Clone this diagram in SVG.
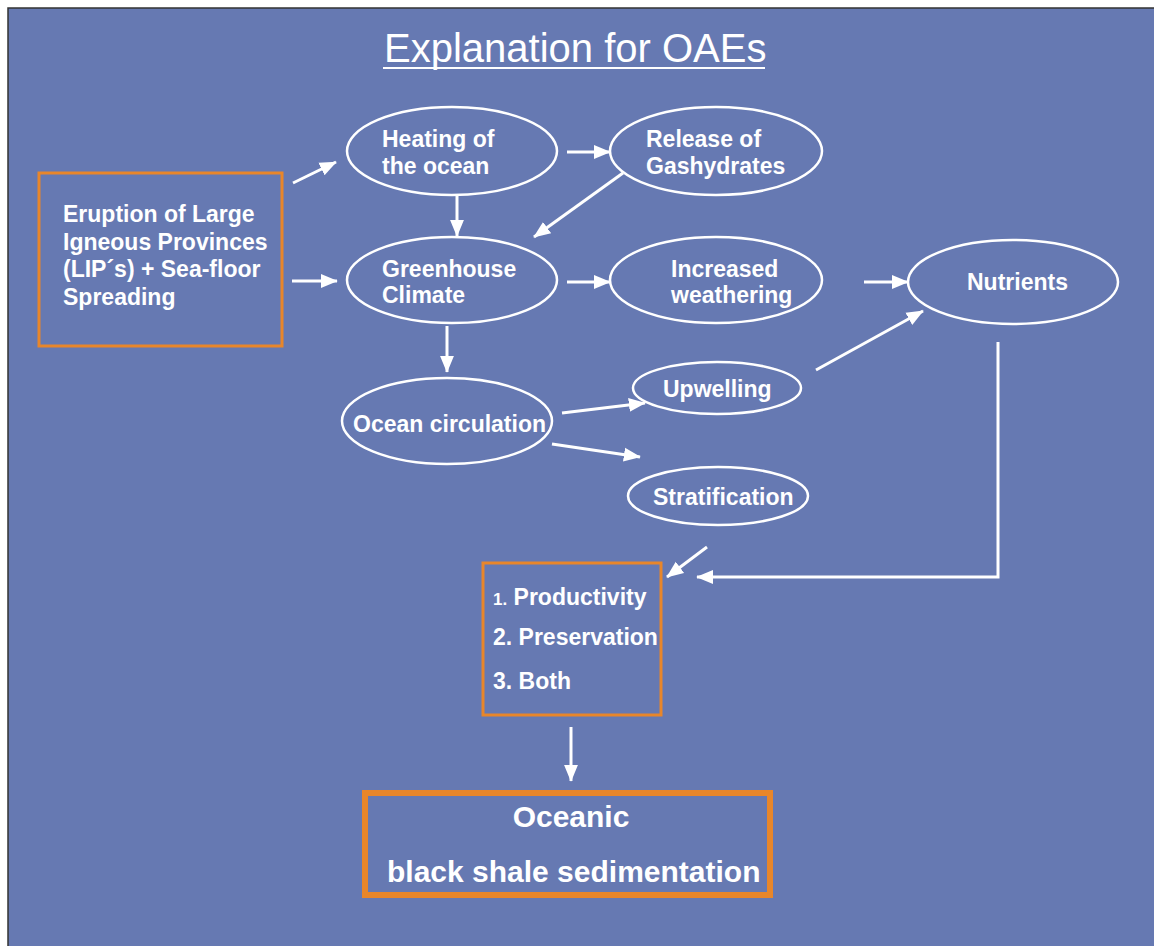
<svg xmlns="http://www.w3.org/2000/svg" width="1154" height="946" viewBox="0 0 1154 946">
<defs>
<style>
.t{font-family:"Liberation Sans",Arial,sans-serif;font-weight:bold;font-size:23px;fill:#fff}
.el{fill:none;stroke:#fff;stroke-width:2.5}
.box{fill:none;stroke:#e8862a;stroke-width:3}
.ar{fill:none;stroke:#fff;stroke-width:3;marker-end:url(#ah)}
</style>
<marker id="ah" viewBox="0 0 10 10" markerUnits="userSpaceOnUse" markerWidth="17" markerHeight="17" refX="9.5" refY="5" orient="auto">
<path d="M0,0.9 L10,5 L0,9.1 z" fill="#fff"/>
</marker>
</defs>
<rect x="0" y="0" width="1154" height="946" fill="#fff"/>
<rect x="8" y="8" width="1150" height="942" fill="#6679b2" stroke="#333" stroke-width="1.5"/>
<g id="title">
<text x="384" y="62" style="font-family:'Liberation Sans',Arial,sans-serif;font-size:40px;fill:#fff">Explanation for OAEs</text>
<line x1="383" y1="68" x2="765" y2="68" stroke="#fff" stroke-width="2"/>
</g>
<g id="eruption">
<rect class="box" x="39" y="173" width="243" height="173"/>
<text class="t" x="63" y="222">Eruption of Large</text>
<text class="t" x="63" y="250">Igneous Provinces</text>
<text class="t" x="63" y="277">(LIP´s) + Sea-floor</text>
<text class="t" x="63" y="305">Spreading</text>
</g>
<g id="heating">
<ellipse class="el" cx="452" cy="151" rx="105" ry="44"/>
<text class="t" x="382" y="147">Heating of</text>
<text class="t" x="382" y="174">the ocean</text>
</g>
<g id="release">
<ellipse class="el" cx="716" cy="151" rx="106" ry="44"/>
<text class="t" x="646" y="147">Release of</text>
<text class="t" x="646" y="174">Gashydrates</text>
</g>
<g id="greenhouse">
<ellipse class="el" cx="452" cy="280" rx="105" ry="43"/>
<text class="t" x="382" y="277">Greenhouse</text>
<text class="t" x="382" y="303">Climate</text>
</g>
<g id="weathering">
<ellipse class="el" cx="716" cy="280" rx="106" ry="43"/>
<text class="t" x="671" y="277">Increased</text>
<text class="t" x="671" y="303">weathering</text>
</g>
<g id="nutrients">
<ellipse class="el" cx="1013" cy="282" rx="105" ry="42"/>
<text class="t" x="967" y="290">Nutrients</text>
</g>
<g id="ocean-circulation">
<ellipse class="el" cx="447" cy="421" rx="105" ry="43"/>
<text class="t" x="353" y="432">Ocean circulation</text>
</g>
<g id="upwelling">
<ellipse class="el" cx="717" cy="388" rx="84" ry="26"/>
<text class="t" x="663" y="397">Upwelling</text>
</g>
<g id="stratification">
<ellipse class="el" cx="718" cy="496" rx="90" ry="29"/>
<text class="t" x="653" y="505">Stratification</text>
</g>
<g id="mechanisms">
<rect class="box" x="483" y="563" width="178" height="152"/>
<text class="t" x="493" y="605"><tspan style="font-size:17px">1.</tspan> Productivity</text>
<text class="t" x="493" y="645">2. Preservation</text>
<text class="t" x="493" y="689">3. Both</text>
</g>
<g id="black-shale">
<rect x="365" y="793" width="405" height="102" fill="none" stroke="#e8862a" stroke-width="6"/>
<text class="t" x="571" y="827" text-anchor="middle" style="font-size:30px">Oceanic</text>
<text class="t" x="387" y="882" style="font-size:30px">black shale sedimentation</text>
</g>
<g id="connectors">
<line class="ar" x1="293" y1="183" x2="336" y2="162"/>
<line class="ar" x1="292" y1="281" x2="337" y2="281"/>
<line class="ar" x1="567" y1="152" x2="610" y2="152"/>
<line class="ar" x1="457" y1="195" x2="457" y2="236"/>
<line class="ar" x1="623" y1="173" x2="534" y2="237"/>
<line class="ar" x1="567" y1="282" x2="610" y2="282"/>
<line class="ar" x1="864" y1="282" x2="908" y2="282"/>
<line class="ar" x1="816" y1="370" x2="923" y2="311"/>
<line class="ar" x1="447" y1="326" x2="447" y2="372"/>
<line class="ar" x1="562" y1="413" x2="645" y2="403"/>
<line class="ar" x1="552" y1="444" x2="640" y2="457"/>
<line class="ar" x1="707" y1="547" x2="667" y2="577"/>
<polyline class="ar" points="998,342 998,577 697,577"/>
<line class="ar" x1="571" y1="727" x2="571" y2="781"/>
</g>
</svg>
